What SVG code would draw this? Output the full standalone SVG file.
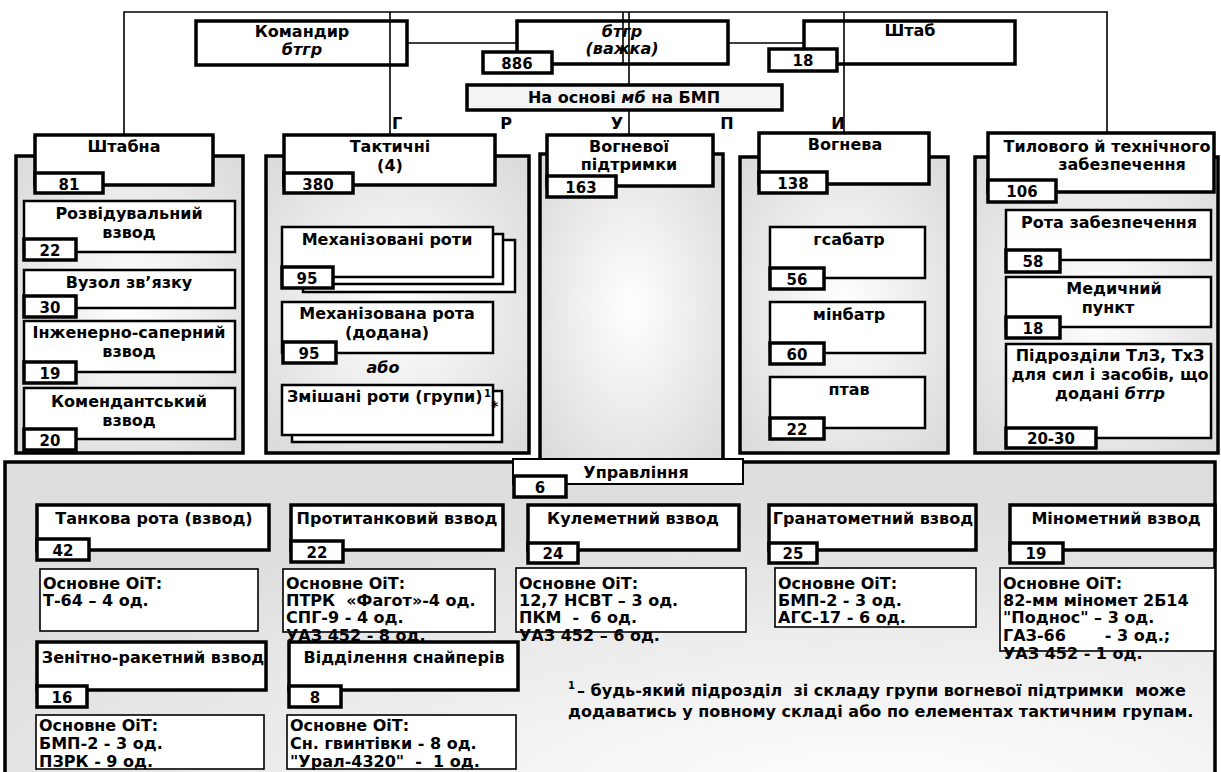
<svg xmlns="http://www.w3.org/2000/svg" width="1221" height="772" viewBox="0 0 1221 772">
<defs>
<radialGradient id="pg" cx="0.5" cy="0.5" r="0.65"><stop offset="0" stop-color="#ffffff"/><stop offset="1" stop-color="#dcdcdc"/></radialGradient>
<radialGradient id="bg" cx="0.72" cy="1" r="0.85"><stop offset="0" stop-color="#ffffff"/><stop offset="1" stop-color="#dedede"/></radialGradient>
<style>
.t{font-family:"DejaVu Sans","Liberation Sans",Arial,sans-serif;font-weight:bold;font-size:16px;fill:#000}
.c{text-anchor:middle}
.i{font-style:italic}
.n{font-family:"DejaVu Sans","Liberation Sans",Arial,sans-serif;font-weight:bold;font-size:15px;text-anchor:middle;fill:#000}
.hb{fill:#fff;stroke:#000;stroke-width:3.5}
.ho{fill:none;stroke:#000;stroke-width:3.5}
.sb{fill:#fff;stroke:#000;stroke-width:2.5}
.nb{fill:#fff;stroke:#000;stroke-width:3.5}
.ob{fill:#fff;stroke:#000;stroke-width:1.6}
.pn{fill:url(#pg);stroke:#000;stroke-width:3.5}
.con line,.con polyline{stroke:#000;stroke-width:1.6;fill:none}
</style>
</defs>
<rect width="1221" height="772" fill="#fff"/>

<g id="connectors" class="con">
<polyline points="124,135 124,12 1107,12 1107,133"/>
<line x1="390" y1="12" x2="390" y2="135"/>
<line x1="623" y1="12" x2="623" y2="64"/>
<line x1="629" y1="12" x2="629" y2="135"/>
<line x1="844" y1="12" x2="844" y2="133"/>
<line x1="407" y1="43" x2="517" y2="43"/>
<line x1="728" y1="43" x2="804" y2="43"/>
</g>

<g id="letters">
<text class="t c" x="397" y="129">Г</text>
<text class="t c" x="506" y="129">Р</text>
<text class="t c" x="617" y="129">У</text>
<text class="t c" x="727" y="129">П</text>
<text class="t c" x="838" y="129">И</text>
</g>

<g id="komandyr">
<rect class="ho" x="196" y="21" width="211" height="44"/>
<text class="t c" x="302" y="37">Командир</text>
<text class="t c i" x="302" y="55">бтгр</text>
</g>

<g id="btgr">
<rect class="ho" x="517" y="21" width="211" height="43"/>
<text class="t c i" x="622" y="37">бтгр</text>
<text class="t c i" x="622" y="54">(важка)</text>
<rect class="nb" x="483" y="52" width="69" height="21"/>
<text class="n" x="517" y="69">886</text>
</g>

<g id="shtab">
<rect class="ho" x="804" y="21" width="211" height="43"/>
<text class="t c" x="910" y="36">Штаб</text>
<rect class="nb" x="769" y="49" width="68" height="22"/>
<text class="n" x="803" y="66">18</text>
</g>

<g id="base">
<rect x="467" y="85" width="315" height="25" fill="#f4f4f4" stroke="#000" stroke-width="3.5"/>
<text class="t c" x="624" y="103">На основі <tspan class="i">мб</tspan> на БМП</text>
</g>

<g id="shtabna">
<rect class="pn" x="16" y="156" width="227" height="297"/>
<rect class="hb" x="35" y="135" width="178" height="50"/>
<text class="t c" x="124" y="152">Штабна</text>
<rect class="nb" x="35" y="173" width="68" height="20"/>
<text class="n" x="69" y="190">81</text>
<g id="rozv">
<rect class="sb" x="24" y="201" width="211" height="51"/>
<text class="t c" x="129" y="219">Розвідувальний</text>
<text class="t c" x="129" y="238">взвод</text>
<rect class="nb" x="24" y="239" width="52" height="21"/>
<text class="n" x="50" y="256">22</text>
</g>
<g id="vuzol">
<rect class="sb" x="24" y="270" width="211" height="38"/>
<text class="t c" x="129" y="288">Вузол зв’язку</text>
<rect class="nb" x="24" y="296" width="52" height="21"/>
<text class="n" x="50" y="313">30</text>
</g>
<g id="inzh">
<rect class="sb" x="24" y="321" width="211" height="51"/>
<text class="t c" x="129" y="338">Інженерно-саперний</text>
<text class="t c" x="129" y="357">взвод</text>
<rect class="nb" x="24" y="362" width="52" height="21"/>
<text class="n" x="50" y="379">19</text>
</g>
<g id="komend">
<rect class="sb" x="24" y="388" width="211" height="51"/>
<text class="t c" x="129" y="407">Комендантський</text>
<text class="t c" x="129" y="426">взвод</text>
<rect class="nb" x="24" y="429" width="52" height="21"/>
<text class="n" x="50" y="446">20</text>
</g>
</g>

<g id="taktychni">
<rect class="pn" x="266" y="156" width="263" height="297"/>
<rect class="hb" x="284" y="135" width="211" height="50"/>
<text class="t c" x="390" y="152">Тактичні</text>
<text class="t c" x="390" y="171">(4)</text>
<rect class="nb" x="284" y="173" width="69" height="20"/>
<text class="n" x="318" y="190">380</text>
<g id="mech">
<rect class="sb" x="303" y="240" width="212" height="52"/>
<rect class="sb" x="292" y="234" width="211" height="50"/>
<rect class="sb" x="282" y="227" width="211" height="50"/>
<text class="t c" x="387" y="245">Механізовані роти</text>
<rect class="nb" x="282" y="267" width="51" height="21"/>
<text class="n" x="307" y="284">95</text>
</g>
<g id="mech-add">
<rect class="sb" x="282" y="302" width="211" height="51"/>
<text class="t c" x="387" y="319">Механізована рота</text>
<text class="t c" x="387" y="338">(додана)</text>
<rect class="nb" x="283" y="342" width="53" height="21"/>
<text class="n" x="309" y="359">95</text>
</g>
<text class="t c i" x="383" y="373">або</text>
<g id="mixed">
<rect class="sb" x="292" y="391" width="210" height="51"/>
<rect class="sb" x="282" y="385" width="211" height="50"/>
<text class="t" x="287" y="402">Змішані роти (групи)</text>
<text class="t" x="484" y="397" style="font-size:10px">1</text>
<text class="t" x="491" y="411" style="font-size:14px">*</text>
</g>
</g>

<g id="vogn-pidtr">
<rect class="pn" x="540" y="154" width="183" height="306"/>
<rect class="hb" x="547" y="135" width="166" height="51"/>
<text class="t c" x="629" y="152">Вогневої</text>
<text class="t c" x="629" y="170">підтримки</text>
<rect class="nb" x="547" y="176" width="69" height="21"/>
<text class="n" x="581" y="193">163</text>
</g>

<g id="vognieva">
<rect class="pn" x="740" y="157" width="208" height="296"/>
<rect class="hb" x="759" y="133" width="170" height="51"/>
<text class="t c" x="845" y="150">Вогнева</text>
<rect class="nb" x="759" y="172" width="68" height="21"/>
<text class="n" x="793" y="189">138</text>
<g id="gsabatr">
<rect class="sb" x="770" y="227" width="155" height="51"/>
<text class="t c" x="849" y="245">гсабатр</text>
<rect class="nb" x="770" y="268" width="54" height="21"/>
<text class="n" x="797" y="285">56</text>
</g>
<g id="minbatr">
<rect class="sb" x="770" y="302" width="155" height="51"/>
<text class="t c" x="849" y="320">мінбатр</text>
<rect class="nb" x="770" y="343" width="54" height="21"/>
<text class="n" x="797" y="360">60</text>
</g>
<g id="ptav">
<rect class="sb" x="770" y="377" width="155" height="51"/>
<text class="t c" x="849" y="395">птав</text>
<rect class="nb" x="770" y="418" width="54" height="21"/>
<text class="n" x="797" y="435">22</text>
</g>
</g>

<g id="tylove">
<rect class="pn" x="975" y="157" width="243" height="296"/>
<rect class="hb" x="988" y="133" width="226" height="59"/>
<text class="t c" x="1107" y="152">Тилового й технічного</text>
<text class="t c" x="1122" y="170">забезпечення</text>
<rect class="nb" x="988" y="180" width="68" height="22"/>
<text class="n" x="1022" y="197">106</text>
<g id="rota-zab">
<rect class="sb" x="1006" y="210" width="205" height="50"/>
<text class="t c" x="1109" y="228">Рота забезпечення</text>
<rect class="nb" x="1006" y="250" width="54" height="22"/>
<text class="n" x="1033" y="267">58</text>
</g>
<g id="med">
<rect class="sb" x="1006" y="277" width="205" height="50"/>
<text class="t c" x="1114" y="294">Медичний</text>
<text class="t c" x="1108" y="313">пункт</text>
<rect class="nb" x="1006" y="317" width="54" height="21"/>
<text class="n" x="1033" y="334">18</text>
</g>
<g id="pidrozdily">
<rect class="sb" x="1006" y="344" width="205" height="94"/>
<text class="t c" x="1110" y="361">Підрозділи ТлЗ, ТхЗ</text>
<text class="t c" x="1110" y="380">для сил і засобів, що</text>
<text class="t c" x="1110" y="399">додані <tspan class="i">бтгр</tspan></text>
<rect class="nb" x="1006" y="428" width="90" height="20"/>
<text class="n" x="1051" y="444">20-30</text>
</g>
</g>

<g id="upravlinnia-panel">
<rect x="5" y="462" width="1210" height="330" fill="url(#bg)" stroke="#000" stroke-width="3.5"/>
<g id="upravlinnia">
<rect x="513" y="459" width="230" height="25" fill="#fff" stroke="#000" stroke-width="2"/>
<text class="t c" x="636" y="478">Управління</text>
<rect class="nb" x="514" y="476" width="52" height="21"/>
<text class="n" x="540" y="493">6</text>
</g>

<g id="tank">
<rect class="hb" x="37" y="505" width="232" height="45"/>
<text class="t c" x="154" y="524">Танкова рота (взвод)</text>
<rect class="nb" x="37" y="539" width="52" height="21"/>
<text class="n" x="63" y="556">42</text>
<rect class="ob" x="40" y="569" width="218" height="62"/>
<text class="t" x="43" y="589">Основне ОіТ:</text>
<text class="t" x="43" y="606">Т-64 – 4 од.</text>
</g>

<g id="antitank">
<rect class="hb" x="291" y="505" width="212" height="45"/>
<text class="t c" x="397" y="524">Протитанковий взвод</text>
<rect class="nb" x="291" y="541" width="52" height="21"/>
<text class="n" x="317" y="558">22</text>
<rect class="ob" x="283" y="569" width="212" height="63"/>
<text class="t" x="286" y="589">Основне ОіТ:</text>
<text class="t" x="286" y="606" style="white-space:pre">ПТРК  «Фагот»-4 од.</text>
<text class="t" x="286" y="623">СПГ-9 - 4 од.</text>
<text class="t" x="286" y="641">УАЗ 452 - 8 од.</text>
</g>

<g id="mg">
<rect class="hb" x="528" y="505" width="211" height="45"/>
<text class="t c" x="633" y="524">Кулеметний взвод</text>
<rect class="nb" x="528" y="543" width="50" height="20"/>
<text class="n" x="553" y="559">24</text>
<rect class="ob" x="516" y="568" width="230" height="64"/>
<text class="t" x="519" y="589">Основне ОіТ:</text>
<text class="t" x="519" y="606">12,7 НСВТ – 3 од.</text>
<text class="t" x="519" y="623" style="white-space:pre">ПКМ  -  6 од.</text>
<text class="t" x="519" y="641">УАЗ 452 – 6 од.</text>
</g>

<g id="grenade">
<rect class="hb" x="769" y="505" width="207" height="45"/>
<text class="t c" x="873" y="524">Гранатометний взвод</text>
<rect class="nb" x="769" y="543" width="48" height="20"/>
<text class="n" x="793" y="559">25</text>
<rect class="ob" x="775" y="568" width="201" height="59"/>
<text class="t" x="778" y="589">Основне ОіТ:</text>
<text class="t" x="778" y="606">БМП-2 - 3 од.</text>
<text class="t" x="778" y="623">АГС-17 - 6 од.</text>
</g>

<g id="mortar">
<rect class="hb" x="1010" y="505" width="205" height="45"/>
<text class="t c" x="1116" y="524">Мінометний взвод</text>
<rect class="nb" x="1010" y="543" width="53" height="20"/>
<text class="n" x="1036" y="559">19</text>
<rect class="ob" x="1000" y="568" width="215" height="83"/>
<text class="t" x="1003" y="589">Основне ОіТ:</text>
<text class="t" x="1003" y="606">82-мм міномет 2Б14</text>
<text class="t" x="1003" y="623">"Поднос" – 3 од.</text>
<text class="t" x="1003" y="641" style="white-space:pre">ГАЗ-66       - 3 од.;</text>
<text class="t" x="1003" y="659">УАЗ 452 - 1 од.</text>
</g>

<g id="aa">
<rect class="hb" x="37" y="642" width="229" height="48"/>
<text class="t c" x="153" y="663">Зенітно-ракетний взвод</text>
<rect class="nb" x="37" y="686" width="50" height="21"/>
<text class="n" x="62" y="703">16</text>
<rect class="ob" x="36" y="715" width="228" height="54"/>
<text class="t" x="39" y="731">Основне ОіТ:</text>
<text class="t" x="39" y="749">БМП-2 - 3 од.</text>
<text class="t" x="39" y="767">ПЗРК - 9 од.</text>
</g>

<g id="snipers">
<rect class="hb" x="289" y="642" width="229" height="48"/>
<text class="t c" x="404" y="663">Відділення снайперів</text>
<rect class="nb" x="289" y="686" width="52" height="21"/>
<text class="n" x="315" y="703">8</text>
<rect class="ob" x="287" y="715" width="229" height="54"/>
<text class="t" x="290" y="731">Основне ОіТ:</text>
<text class="t" x="290" y="749">Сн. гвинтівки - 8 од.</text>
<text class="t" x="290" y="767" style="white-space:pre">"Урал-4320"  -  1 од.</text>
</g>

<g id="footnote">
<text class="t" x="568" y="689" style="font-size:10px">1</text>
<text class="t" x="577" y="696" style="white-space:pre">– будь-який підрозділ  зі складу групи вогневої підтримки  може</text>
<text class="t" x="568" y="717">додаватись у повному складі або по елементах тактичним групам.</text>
</g>
</g>
</svg>
